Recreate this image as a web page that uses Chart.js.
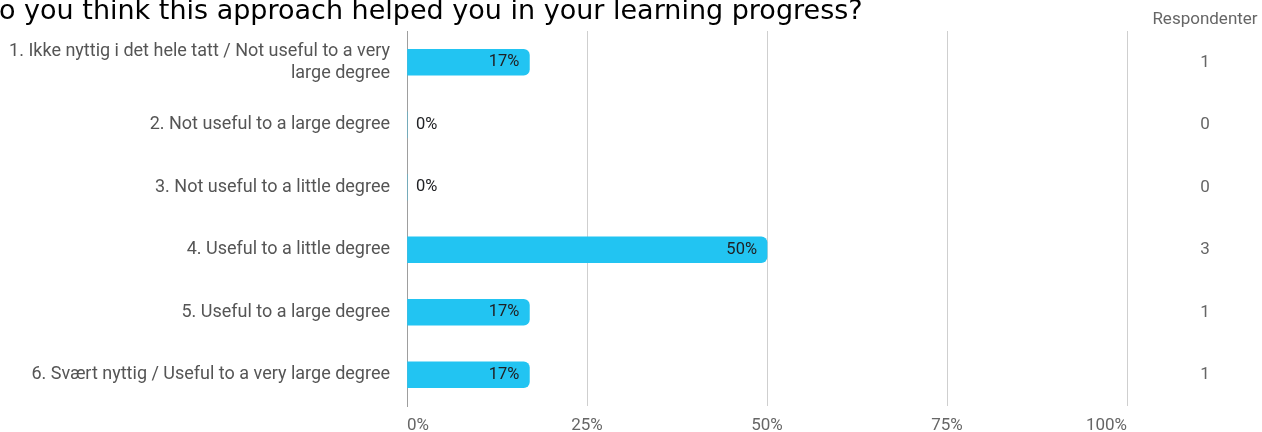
<!DOCTYPE html>
<html lang="no">
<head>
  <meta charset="UTF-8">
  <title>Respondenter</title>
  <script src="https://cdn.jsdelivr.net/npm/chart.js"></script>
  <style>
    body {
      margin: 0;
      background: #fff;
      overflow: hidden;
    }
    #wrap {
      width: 1262px;
      height: 432px;
    }
  </style>
</head>
<body>
  <div id="wrap">
    <canvas id="surveyChart" width="1262" height="432"></canvas>
  </div>

  <script>
    const questionTitle = 'Do you think this approach helped you in your learning progress?';

    const categories = [
      ['1. Ikke nyttig i det hele tatt / Not useful to a very', 'large degree'],
      '2. Not useful to a large degree',
      '3. Not useful to a little degree',
      '4. Useful to a little degree',
      '5. Useful to a large degree',
      '6. Svært nyttig / Useful to a very large degree'
    ];
    const percentValues = [17, 0, 0, 50, 17, 17];
    const respondentCounts = [1, 0, 0, 3, 1, 1];
    const xTicks = [0, 25, 50, 75, 100];
    const countHeader = 'Respondenter';

    const labelFont = 'Roboto, "Noto Sans", sans-serif';

    // percent labels inside/next to each bar + the respondent column on the right
    const extrasPlugin = {
      id: 'extras',
      afterDatasetsDraw(chart) {
        const ctx = chart.ctx;
        const meta = chart.getDatasetMeta(0);
        ctx.save();
        ctx.font = '16.5px ' + labelFont;
        ctx.fillStyle = '#202124';
        ctx.textBaseline = 'middle';
        meta.data.forEach((bar, i) => {
          const v = percentValues[i];
          if (v > 0) {
            ctx.textAlign = 'right';
            ctx.fillText(v + '%', bar.x - 10, bar.y);
          } else {
            ctx.textAlign = 'left';
            ctx.fillText(v + '%', bar.x + 9, bar.y);
          }
        });
        ctx.restore();
      },
      afterDraw(chart) {
        const ctx = chart.ctx;
        const yScale = chart.scales.y;
        const colX = 1205;
        ctx.save();
        ctx.fillStyle = '#666';
        ctx.textAlign = 'center';
        ctx.textBaseline = 'middle';
        ctx.font = '17px ' + labelFont;
        ctx.fillText(countHeader, colX, 20);
        respondentCounts.forEach((n, i) => {
          ctx.fillText(String(n), colX, yScale.getPixelForValue(i));
        });

        // question heading, partly cut off by the top/left edge
        ctx.font = '27px "DejaVu Sans", Verdana, sans-serif';
        ctx.fillStyle = '#000';
        ctx.textAlign = 'left';
        ctx.textBaseline = 'alphabetic';
        const shift = ctx.measureText('D').width;
        ctx.fillText(questionTitle, -shift - 1, 19);
        ctx.restore();
      }
    };

    const ctx = document.getElementById('surveyChart').getContext('2d');

    new Chart(ctx, {
      type: 'bar',
      data: {
        labels: categories,
        datasets: [{
          data: percentValues,
          backgroundColor: '#22c4f2',
          borderWidth: 0,
          borderRadius: 6,
          borderSkipped: 'start',
          barThickness: 26
        }]
      },
      options: {
        indexAxis: 'y',
        responsive: false,
        animation: false,
        layout: {
          padding: { top: 31, right: 135, bottom: 0, left: 0 }
        },
        plugins: {
          legend: { display: false },
          tooltip: { enabled: false }
        },
        scales: {
          x: {
            min: 0,
            max: 100,
            afterBuildTicks(scale) {
              scale.ticks = xTicks.map(v => ({ value: v }));
            },
            afterFit(scale) {
              scale.height = 26;
              scale.paddingLeft = 0;
              scale.paddingRight = 0;
            },
            ticks: {
              align: 'inner',
              padding: 10,
              color: '#666',
              font: { family: labelFont, size: 17 },
              callback: v => v + '%'
            },
            grid: {
              color: '#cfcfcf',
              lineWidth: 1,
              drawTicks: false
            },
            border: { display: false }
          },
          y: {
            afterFit(scale) {
              scale.width = 407;
              scale.paddingTop = 0;
              scale.paddingBottom = 0;
            },
            ticks: {
              padding: 17,
              color: '#555',
              font: { family: labelFont, size: 18, lineHeight: 1.22 }
            },
            grid: { display: false, drawTicks: false },
            border: { display: true, color: '#9e9e9e', width: 1 }
          }
        }
      },
      plugins: [extrasPlugin]
    });
  </script>
</body>
</html>
